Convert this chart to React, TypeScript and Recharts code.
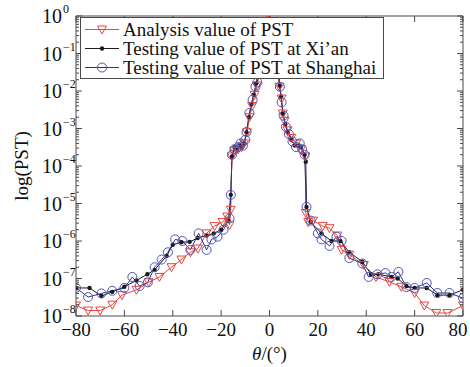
import React from 'react';
import { LineChart, Line, XAxis, YAxis, Legend, Label } from 'recharts';

const FONT = '"Liberation Serif", "Times New Roman", serif';
const RED = '#e8463c';
const BLACK = '#1a1a1a';
const BLUE = '#2f2f8c';
const BLUE_MARK = '#5353b5';
const AXIS = '#4a4a4a';

// θ (degrees) and PST values
const analysisTheta = [-80, -75, -70, -65, -61, -55, -50, -45.5, -40.5, -36.4, -32.7, -29.6, -26, -22.7, -19.4, -17.5, -16.5, -16, -15.6, -14.5, -13, -11.5, -10.5, -9.3, -8.3, -7.2, -6.2, -5.2, -3.5, -2, -0.5, 1, 2.5, 4.1, 5, 5.5, 6.2, 7.5, 9, 11, 13, 14.8, 15, 16, 18, 22, 24.8, 28, 29.8, 33, 39, 44, 49.6, 54.5, 60, 64, 69, 73.6, 80];
const analysisPST = [1.9e-8, 1.4e-8, 1.4e-8, 2.0e-8, 3.6e-8, 5.0e-8, 7.9e-8, 1.1e-7, 2.0e-7, 3.2e-7, 5.0e-7, 6.3e-7, 1.6e-6, 2.5e-6, 3.2e-6, 4.5e-6, 2.7e-6, 6.8e-6, 1.8e-4, 2.5e-4, 2.8e-4, 3.2e-4, 4.0e-4, 7.9e-4, 2.0e-3, 4.0e-3, 7.9e-3, 1.4e-2, 5e-2, 0.25, 1, 0.4, 0.08, 1.3e-2, 6.3e-3, 2.5e-3, 1.6e-3, 8.9e-4, 5.6e-4, 4.0e-4, 2.8e-4, 1.8e-4, 5.6e-6, 3.2e-6, 3.5e-6, 2.5e-6, 2.2e-6, 1.4e-6, 5.8e-7, 4.3e-7, 2.3e-7, 1.1e-7, 8.1e-8, 6.0e-8, 4.1e-8, 1.9e-8, 1.2e-8, 1.2e-8, 1.9e-8];

const xianTheta = [-80, -74.4, -69.5, -65, -60, -55, -50.5, -47.5, -42.5, -40, -36.4, -33, -29.7, -26, -23, -20, -17, -16, -15.5, -14.5, -13.5, -12.5, -11.5, -10.5, -9.5, -8.5, -7.5, -6.5, -5.5, -4, -2, 0.5, 3, 4.2, 4.8, 5.5, 6.5, 7.5, 9, 10.5, 12, 13, 14.5, 15, 15.3, 17, 21.5, 25.6, 29.3, 33, 38.4, 42, 45, 50.4, 53, 56.6, 60, 65, 69.4, 74.4, 80];
const xianPST = [5.6e-8, 5.6e-8, 3.4e-8, 4.4e-8, 6.0e-8, 8.9e-8, 1.3e-7, 1.7e-7, 4.0e-7, 7.9e-7, 9.3e-7, 9.5e-7, 1.2e-6, 1.4e-6, 1.6e-6, 2.0e-6, 3.5e-6, 1.7e-5, 1.8e-4, 3.2e-4, 2.8e-4, 3.5e-4, 3.2e-4, 4.0e-4, 7.9e-4, 2.0e-3, 4.5e-3, 7.9e-3, 1.6e-2, 6e-2, 0.4, 0.5, 0.16, 1.4e-2, 7.1e-3, 2.5e-3, 1.3e-3, 7.9e-4, 5.0e-4, 3.5e-4, 3.5e-4, 3.2e-4, 2.0e-4, 1.3e-4, 8.1e-6, 3.2e-6, 1.6e-6, 1.0e-6, 1.0e-6, 5.0e-7, 2.8e-7, 1.3e-7, 1.3e-7, 1.1e-7, 1.0e-7, 6.3e-8, 5.6e-8, 5.6e-8, 3.6e-8, 3.6e-8, 5.0e-8];

const shanghaiTheta = [-80, -75, -69.5, -65, -60, -56.7, -53.7, -50.3, -47.5, -44.6, -42, -39, -36, -32.7, -29.3, -26, -24, -21.5, -19, -16.5, -16, -15.5, -14.5, -13, -12, -11, -10, -9.5, -8.3, -7, -5.8, -5, -3.5, -1.5, 1, 3, 4.3, 5, 5.8, 6.8, 8, 9.5, 11, 12.5, 13.5, 14.5, 15.3, 17, 20, 21.5, 24.8, 27.7, 29.8, 33, 38.4, 41, 44.6, 47.9, 50.4, 53.3, 56.6, 60, 65, 69.4, 74.4, 80];
const shanghaiPST = [5.6e-8, 3.2e-8, 4.0e-8, 4.7e-8, 5.6e-8, 1.1e-7, 6.3e-8, 7.9e-8, 2.0e-7, 3.2e-7, 5.0e-7, 1.1e-6, 1.0e-6, 5.8e-7, 1.6e-6, 5.8e-7, 1.1e-6, 1.3e-6, 2.0e-6, 4.0e-6, 1.7e-5, 2.0e-4, 2.8e-4, 3.2e-4, 4.0e-4, 3.5e-4, 5.0e-4, 8.1e-4, 2.6e-3, 5.8e-3, 1.3e-2, 1.7e-2, 0.1, 0.6, 0.5, 0.1, 1.3e-2, 5.0e-3, 2.2e-3, 1.1e-3, 7.1e-4, 4.5e-4, 3.2e-4, 4.0e-4, 2.8e-4, 2.0e-4, 8.1e-6, 3.5e-6, 1.6e-6, 1.1e-6, 7.4e-7, 1.3e-6, 1.0e-6, 3.5e-7, 2.5e-7, 1.1e-7, 1.3e-7, 1.4e-7, 1.1e-7, 1.5e-7, 5.9e-8, 5.6e-8, 7.6e-8, 4.1e-8, 4.1e-8, 3.0e-8];

const xTicks = [-80, -60, -40, -20, 0, 20, 40, 60, 80];
const yDecades = [-8, -7, -6, -5, -4, -3, -2, -1];
const yTicks: number[] = [];
yDecades.forEach((e) => {
  for (let k = 1; k <= 9; k++) yTicks.push(Number((k * Math.pow(10, e)).toPrecision(3)));
});
yTicks.push(1);

const rows = (t: number[], v: number[]) => t.map((theta, i) => ({ theta, pst: v[i] }));
const analysisData = rows(analysisTheta, analysisPST);
const xianData = rows(xianTheta, xianPST);
const shanghaiData = rows(shanghaiTheta, shanghaiPST);

const isMajor = (v: number) => {
  const l = Math.log10(v);
  return Math.abs(l - Math.round(l)) < 1e-6;
};

const LeftTick = (props: any) => {
  const { x, y, payload } = props;
  const v = payload.value;
  const major = isMajor(v);
  const exp = Math.round(Math.log10(v));
  return (
    <g>
      <line x1={x} x2={x + (major ? 6 : 3)} y1={y} y2={y} stroke={AXIS} strokeWidth={1} />
      {major && (
        <text x={x - 14} y={y} dy="0.35em" textAnchor="end" fontFamily={FONT} fontSize={20} fill="#111">
          10
        </text>
      )}
      {major && (
        <text x={x - 13} y={y - 7} dy="0.35em" textAnchor="start" fontFamily={FONT} fontSize={12} fill="#111">
          {exp === 0 ? '0' : '\u2212' + String(-exp)}
        </text>
      )}
    </g>
  );
};

const RightTick = (props: any) => {
  const { x, y, payload } = props;
  const major = isMajor(payload.value);
  return <line x1={x} x2={x - (major ? 6 : 3)} y1={y} y2={y} stroke={AXIS} strokeWidth={1} />;
};

const BottomTick = (props: any) => {
  const { x, y, payload } = props;
  const v = payload.value;
  const tx = Math.min(x, 458);
  return (
    <g>
      <line x1={x} x2={x} y1={y} y2={y - 6} stroke={AXIS} strokeWidth={1} />
      <text x={tx} y={y + 20} textAnchor="middle" fontFamily={FONT} fontSize={19} fill="#111">
        {v < 0 ? '\u2212' + String(-v) : String(v)}
      </text>
    </g>
  );
};

const TopTick = (props: any) => {
  const { x, y } = props;
  return <line x1={x} x2={x} y1={y} y2={y + 6} stroke={AXIS} strokeWidth={1} />;
};

const Tri = ({ cx, cy, color }: any) => (
  <path
    d={`M${cx - 4.5},${cy - 3.5} L${cx + 4.5},${cy - 3.5} L${cx},${cy + 4.5} Z`}
    fill="none"
    stroke={color}
    strokeWidth={1}
  />
);

const redDot = (p: any) => <Tri key={p.index} cx={p.cx} cy={p.cy} color={RED} />;
const blackDot = (p: any) => <circle key={p.index} cx={p.cx} cy={p.cy} r={2.2} fill={BLACK} stroke="none" />;
const blueDot = (p: any) => (
  <circle key={p.index} cx={p.cx} cy={p.cy} r={4.5} fill="none" stroke={BLUE_MARK} strokeWidth={1} />
);

const legendItems = [
  { name: 'Analysis value of PST', line: RED, kind: 'tri' },
  { name: 'Testing value of PST at Xi\u2019an', line: BLACK, kind: 'dot' },
  { name: 'Testing value of PST at Shanghai', line: BLUE, kind: 'circle' },
];

const LegendBox = () => (
  <div
    style={{
      boxSizing: 'border-box',
      width: 304,
      height: 62,
      border: `1px solid ${AXIS}`,
      background: '#fff',
      padding: '2px 0 0 0',
      fontFamily: FONT,
      fontSize: 19,
      lineHeight: '19px',
      color: '#111',
    }}
  >
    {legendItems.map((it) => (
      <div key={it.name} style={{ display: 'flex', alignItems: 'center', height: 19, whiteSpace: 'nowrap' }}>
        <svg width={42} height={19} style={{ flex: 'none' }}>
          <line x1={4} x2={38} y1={9.5} y2={9.5} stroke={it.line} strokeWidth={1} />
          {it.kind === 'tri' && <Tri cx={21} cy={9.5} color={RED} />}
          {it.kind === 'dot' && <circle cx={21} cy={9.5} r={2.2} fill={BLACK} />}
          {it.kind === 'circle' && <circle cx={21} cy={9.5} r={4.5} fill="none" stroke={BLUE_MARK} />}
        </svg>
        <span>{it.name}</span>
      </div>
    ))}
  </div>
);

const YTitle = (props: any) => {
  const { viewBox } = props;
  const cx = viewBox.x + viewBox.width - 55;
  const cy = viewBox.y + viewBox.height / 2;
  return (
    <text x={cx} y={cy} transform={`rotate(-90 ${cx} ${cy})`} textAnchor="middle" dy="0.35em" fontFamily={FONT} fontSize={19} fill="#111">
      log(PST)
    </text>
  );
};

const XTitle = (props: any) => {
  const { viewBox } = props;
  const cx = viewBox.x + viewBox.width / 2;
  const cy = viewBox.y + 44;
  return (
    <text x={cx} y={cy} textAnchor="middle" fontFamily={FONT} fontSize={19} fill="#111">
      <tspan fontStyle="italic">θ</tspan>
      <tspan>/(°)</tspan>
    </text>
  );
};

export default function App() {
  return (
    <div style={{ position: 'absolute', left: 0, top: 0, width: 470, height: 367, background: '#fff' }}>
      <LineChart width={470} height={367} margin={{ top: 15, right: 6, bottom: 50, left: 75 }}>
        <XAxis
          dataKey="theta"
          type="number"
          domain={[-80, 80]}
          ticks={xTicks}
          interval={0}
          allowDataOverflow
          height={1}
          tickSize={0}
          tickMargin={0}
          tickLine={false}
          axisLine={{ stroke: AXIS }}
          tick={<BottomTick />}
        >
          <Label content={<XTitle />} />
        </XAxis>
        <XAxis
          xAxisId="top"
          orientation="top"
          dataKey="theta"
          type="number"
          domain={[-80, 80]}
          ticks={xTicks}
          interval={0}
          allowDataOverflow
          height={1}
          tickSize={0}
          tickMargin={0}
          tickLine={false}
          axisLine={{ stroke: AXIS }}
          tick={<TopTick />}
        />
        <YAxis
          scale="log"
          type="number"
          domain={[1e-8, 1]}
          ticks={yTicks}
          interval={0}
          allowDataOverflow
          width={1}
          tickSize={0}
          tickMargin={0}
          tickLine={false}
          axisLine={{ stroke: AXIS }}
          tick={<LeftTick />}
        >
          <Label content={<YTitle />} />
        </YAxis>
        <YAxis
          yAxisId="right"
          orientation="right"
          scale="log"
          type="number"
          domain={[1e-8, 1]}
          ticks={yTicks}
          interval={0}
          allowDataOverflow
          width={1}
          tickSize={0}
          tickMargin={0}
          tickLine={false}
          axisLine={{ stroke: AXIS }}
          tick={<RightTick />}
        />
        <Line data={xianData} dataKey="pst" stroke={BLACK} strokeWidth={1} dot={blackDot} activeDot={false} isAnimationActive={false} />
        <Line data={analysisData} dataKey="pst" stroke={RED} strokeWidth={1} dot={redDot} activeDot={false} isAnimationActive={false} />
        <Line data={shanghaiData} dataKey="pst" stroke={BLUE} strokeWidth={1} dot={blueDot} activeDot={false} isAnimationActive={false} />
        <Legend
          layout="vertical"
          align="center"
          verticalAlign="middle"
          content={<LegendBox />}
          wrapperStyle={{ position: 'absolute', left: 80, top: 17, width: 304, height: 62, margin: 0, padding: 0 }}
        />
      </LineChart>
    </div>
  );
}
